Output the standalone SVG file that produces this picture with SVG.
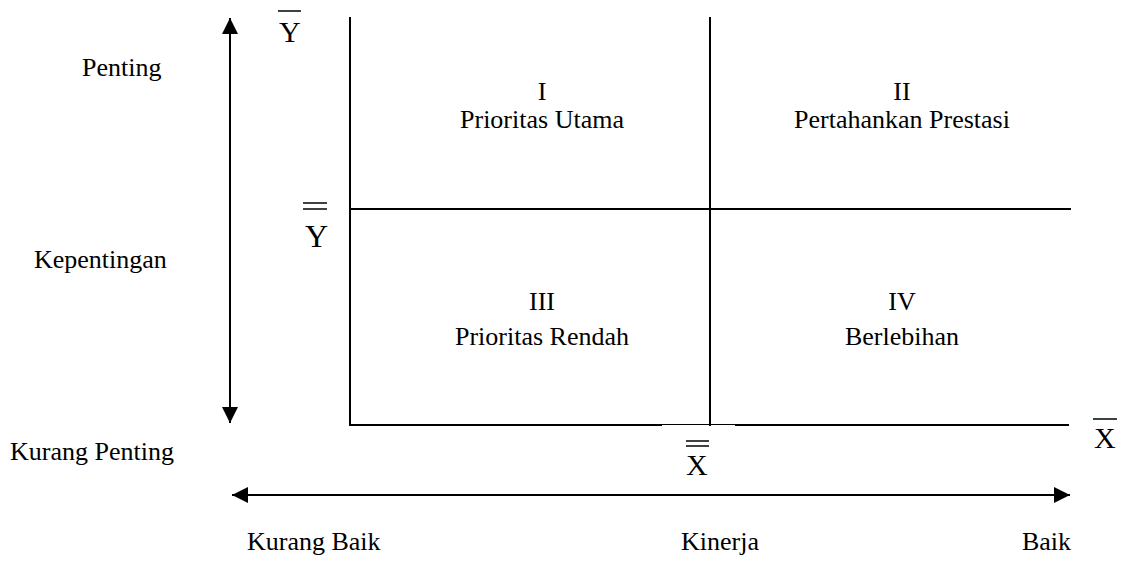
<svg xmlns="http://www.w3.org/2000/svg" width="1127" height="561" viewBox="0 0 1127 561">
<style>
  text { font-family: "Liberation Serif", "Times New Roman", serif; font-size: 26px; fill: #000; }
  .sym { font-size: 30px; }
  .c { text-anchor: middle; }
  line { stroke: #000; stroke-width: 2; }
</style>
<defs>
  <marker id="ah" viewBox="0 0 10 10" refX="10" refY="5" markerWidth="16" markerHeight="16" markerUnits="userSpaceOnUse" orient="auto-start-reverse">
    <path d="M0,0 L10,5 L0,10 Z" fill="#000"/>
  </marker>
</defs>
<g id="connectors">
  <line id="axis-importance" x1="230" y1="18" x2="230" y2="423" marker-start="url(#ah)" marker-end="url(#ah)"/>
  <line id="axis-performance" x1="232" y1="495" x2="1070" y2="495" marker-start="url(#ah)" marker-end="url(#ah)"/>
  <line x1="350" y1="17" x2="350" y2="426"/>
  <line x1="710" y1="17" x2="710" y2="426"/>
  <line x1="350" y1="209" x2="1071" y2="209"/>
  <line x1="349" y1="425" x2="662" y2="425"/>
  <line x1="662" y1="424.5" x2="735" y2="424.5" style="stroke-width:1"/>
  <line x1="735" y1="425" x2="1069" y2="425"/>
</g>
<g id="y-bar">
  <line x1="278" y1="11" x2="301" y2="11" style="stroke-width:1.5"/>
  <text class="sym" x="279" y="42">Y</text>
</g>
<g id="y-dbar">
  <line x1="303" y1="203" x2="327" y2="203" style="stroke-width:1.5"/>
  <line x1="303" y1="209" x2="327" y2="209" style="stroke-width:1.5"/>
  <text class="sym" x="305" y="247" style="font-size:32px">Y</text>
</g>
<g id="x-dbar">
  <line x1="686" y1="441" x2="709" y2="441" style="stroke-width:1.5"/>
  <line x1="686" y1="446" x2="709" y2="446" style="stroke-width:1.5"/>
  <text class="sym" x="686" y="475">X</text>
</g>
<g id="x-bar">
  <line x1="1093" y1="419" x2="1117" y2="419" style="stroke-width:1.5"/>
  <text class="sym" x="1094" y="448">X</text>
</g>
<g id="label-penting"><text x="82" y="76">Penting</text></g>
<g id="label-kepentingan"><text x="34" y="268">Kepentingan</text></g>
<g id="label-kurang-penting"><text x="10" y="460">Kurang Penting</text></g>
<g id="q1"><text class="c" x="542" y="100">I</text><text class="c" x="542" y="128">Prioritas Utama</text></g>
<g id="q2"><text class="c" x="902" y="100">II</text><text class="c" x="902" y="128">Pertahankan Prestasi</text></g>
<g id="q3"><text class="c" x="542" y="310">III</text><text class="c" x="542" y="345">Prioritas Rendah</text></g>
<g id="q4"><text class="c" x="902" y="310">IV</text><text class="c" x="902" y="345">Berlebihan</text></g>
<g id="label-kurang-baik"><text x="247" y="550">Kurang Baik</text></g>
<g id="label-kinerja"><text x="681" y="550">Kinerja</text></g>
<g id="label-baik"><text x="1071" y="550" style="text-anchor:end">Baik</text></g>
</svg>
